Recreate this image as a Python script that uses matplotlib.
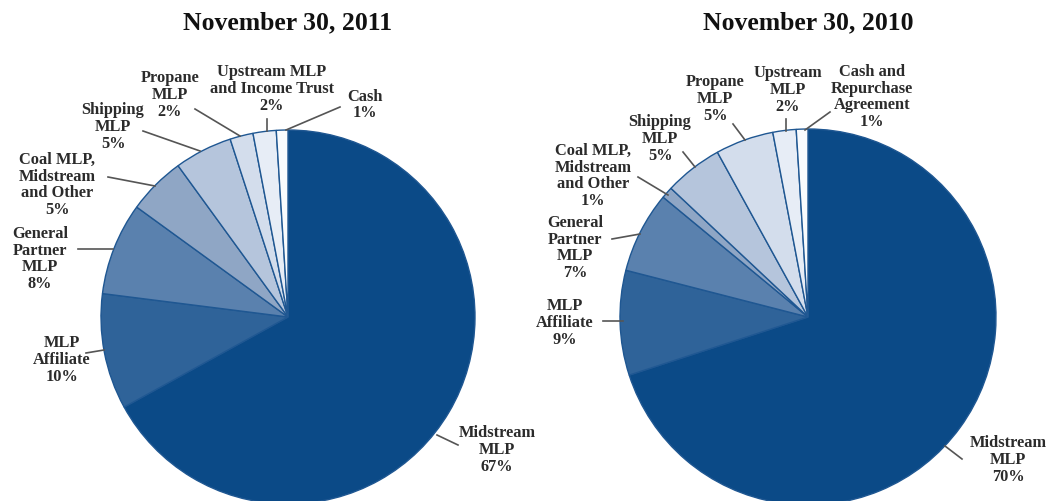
import matplotlib.pyplot as plt

# Portfolio allocation data
labels_2011 = ["Midstream\nMLP", "MLP\nAffiliate", "General\nPartner\nMLP",
               "Coal MLP,\nMidstream\nand Other", "Shipping\nMLP", "Propane\nMLP",
               "Upstream MLP\nand Income Trust", "Cash"]
values_2011 = [67, 10, 8, 5, 5, 2, 2, 1]

labels_2010 = ["Midstream\nMLP", "MLP\nAffiliate", "General\nPartner\nMLP",
               "Coal MLP,\nMidstream\nand Other", "Shipping\nMLP", "Propane\nMLP",
               "Upstream\nMLP", "Cash and\nRepurchase\nAgreement"]
values_2010 = [70, 9, 7, 1, 5, 5, 2, 1]

colors = ["#0b4a87", "#2f6399", "#5a81ae", "#8fa6c5", "#b5c5dc",
          "#d3ddec", "#e7edf6", "#f9fbfd"]

# layout in pixel coords (y measured from top): text centre, line start, line end
layout_2011 = [
    ((497, 450), (458, 446), (437, 436)),
    ((62, 360), (86, 354), (104, 351)),
    ((40, 259), (78, 250), (113, 250)),
    ((57, 185), (108, 178), (155, 187)),
    ((113, 127), (143, 132), (200, 152)),
    ((170, 95), (195, 110), (240, 137)),
    ((272, 89), (267, 120), (267, 132)),
    ((365, 105), (340, 108), (286, 131)),
]
layout_2010 = [
    ((1008, 460), (962, 460), (945, 447)),
    ((565, 323), (603, 322), (623, 322)),
    ((575, 248), (612, 240), (640, 235)),
    ((593, 176), (638, 178), (668, 196)),
    ((660, 139), (683, 153), (695, 168)),
    ((715, 99), (733, 125), (745, 141)),
    ((788, 90), (786, 120), (786, 132)),
    ((872, 97), (830, 113), (805, 131)),
]

H = 502
fig = plt.figure(figsize=(10.5, 5.02), dpi=100)
ax = fig.add_axes([0, 0, 1, 1])

font = dict(family="Liberation Serif", fontweight="bold")
txt_color = "#2b2b2b"

def draw_pie(center, radius, title, labels, values, layout):
    cx, cy = center
    ax.pie(values, colors=colors, startangle=90, counterclock=False,
           center=(cx, H - cy), radius=radius, frame=True,
           wedgeprops=dict(edgecolor="#1f5792", linewidth=1.0))
    ax.text(cx, H - 23, title, ha="center", va="center", fontsize=18.5,
            color="#111111", **font)
    for lab, val, (tpos, p1, p2) in zip(labels, values, layout):
        ax.text(tpos[0], H - tpos[1], f"{lab}\n{val}%", ha="center", va="center",
                fontsize=11.8, linespacing=1.08, color=txt_color, **font)
        ax.plot([p1[0], p2[0]], [H - p1[1], H - p2[1]], color="#555555", lw=1.2)

draw_pie((288, 318), 187, "November 30, 2011", labels_2011, values_2011, layout_2011)
draw_pie((808, 318), 188, "November 30, 2010", labels_2010, values_2010, layout_2010)

ax.set_xlim(0, 1050)
ax.set_ylim(0, H)
ax.axis("off")

fig.savefig("out.png", dpi=100)
